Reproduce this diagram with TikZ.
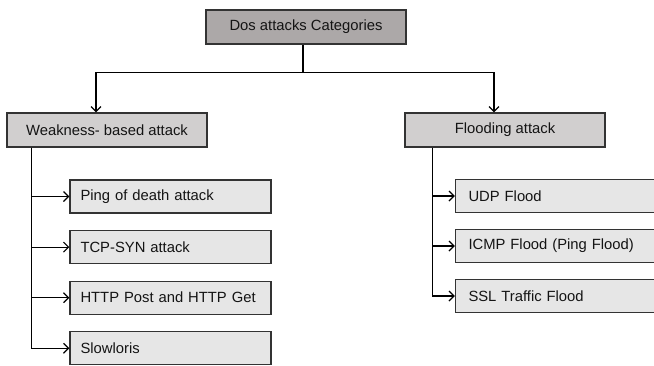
\documentclass[tikz,border=0pt]{standalone}
\usepackage{fontspec}
\setmainfont{Liberation Sans}
\usetikzlibrary{arrows.meta}

\definecolor{rootgray}{HTML}{ACA8A8}
\definecolor{midgray}{HTML}{D1CFCF}
\definecolor{leafgray}{HTML}{E6E6E6}

\begin{document}
\begin{tikzpicture}[x=1pt, y=-1pt,
  box/.style={rectangle, draw=black!80, line width=1.3pt, minimum width=200pt, minimum height=34pt, align=center, text=black!92, font=\fontsize{14.8}{17}\selectfont},
  leaf/.style={box, fill=leafgray, minimum height=33pt, inner xsep=10.5pt, align=left},
  link/.style={black, line width=1.2pt, -{Straight Barb[length=5pt, width=10pt, line width=1.2pt]}},
  node distance=50.6pt]
  \useasboundingbox (0,0) rectangle (654,365);

    \node[box, fill=rootgray] (root) at (306,27) {Dos attacks Categories};
    \node[box, fill=midgray] (weak) at (107,130) {Weakness- based attack};
    \node[box, fill=midgray] (flood) at (505,130) {Flooding attack};

    % weakness based
    \node[leaf, text width=180pt] (ping) at (170.5,196.5) {Ping of death attack};
    \node[leaf, text width=180pt, below of=ping] (tcp) {TCP-SYN attack};
    \node[leaf, text width=180pt, below of=tcp] (http) {HTTP Post and HTTP Get};
    \node[leaf, text width=180pt, below of=http] (slow) {Slowloris};

    % flooding
    \node[leaf, text width=174pt, node distance=50pt] (udp) at (555.5,196) {UDP Flood};
    \node[leaf, text width=174pt, node distance=50pt, below of=udp] (icmp) {ICMP Flood (Ping Flood)};
    \node[leaf, text width=174pt, node distance=50pt, below of=icmp] (ssl) {SSL Traffic Flood};

    \draw[black, line width=1.2pt] ([xshift=-3pt]root.south) -- ++(0,28) coordinate (split);
    \draw[link] (split) -| ([xshift=-11pt]weak.north);
    \draw[link] (split) -| ([xshift=-11pt]flood.north);

    \coordinate (wtrunk) at ([xshift=25pt]weak.south west);
    \coordinate (ftrunk) at ([xshift=28pt]flood.south west);
    \foreach \n in {ping,tcp,http,slow}
      \draw[link] (wtrunk) |- (\n.west);
    \foreach \n in {udp,icmp,ssl}
      \draw[link] (ftrunk) |- (\n.west);

\end{tikzpicture}
\end{document}
